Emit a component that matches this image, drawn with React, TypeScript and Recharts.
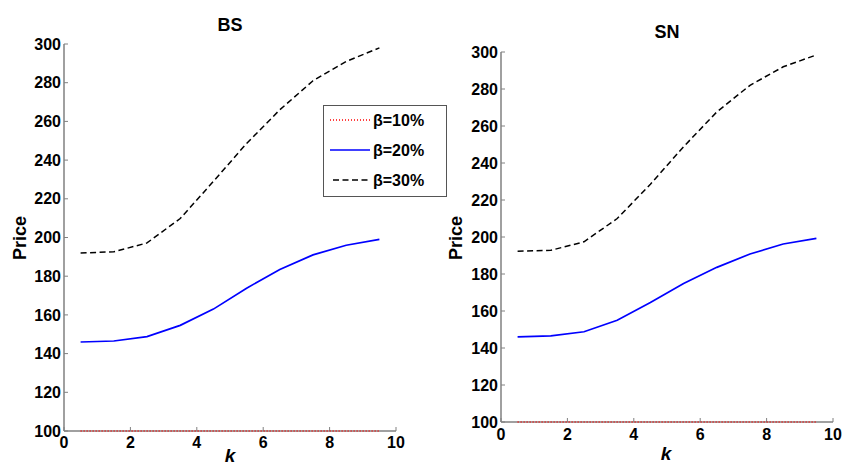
import React from 'react';
import { LineChart, Line, XAxis, YAxis } from 'recharts';

const kValues = [0.5, 1.5, 2.5, 3.5, 4.5, 5.5, 6.5, 7.5, 8.5, 9.5];
const bsBeta10 = [100, 100, 100, 100, 100, 100, 100, 100, 100, 100];
const bsBeta20 = [146, 146.5, 148.8, 154.6, 163, 173.8, 183.5, 191, 196, 199];
const bsBeta30 = [192, 192.6, 197.2, 209.8, 229, 248.6, 266, 281, 291, 298];
const snBeta10 = [100, 100, 100, 100, 100, 100, 100, 100, 100, 100];
const snBeta20 = [146, 146.6, 148.8, 155, 164.6, 174.9, 183.6, 190.8, 196.2, 199.3];
const snBeta30 = [192.3, 192.8, 197.4, 210, 228.5, 248.8, 267.6, 282, 292, 298.4];
const priceTicks = [100, 120, 140, 160, 180, 200, 220, 240, 260, 280, 300];
const kTicks = [0, 2, 4, 6, 8, 10];
const seriesNames = ['β=10%', 'β=20%', 'β=30%'];

const FONT = '"Liberation Sans", Arial, Helvetica, sans-serif';
const AXIS = '#808080';

function build(b10: number[], b20: number[], b30: number[]) {
  return kValues.map((k, i) => ({ k, b10: b10[i], b20: b20[i], b30: b30[i] }));
}

const bsData = build(bsBeta10, bsBeta20, bsBeta30);
const snData = build(snBeta10, snBeta20, snBeta30);

type PanelProps = {
  data: any[];
  width: number;
  height: number;
  margin: { top: number; right: number; bottom: number; left: number };
  xTickMargin: number;
};

function Panel({ data, width, height, margin, xTickMargin }: PanelProps) {
  const tickStyle = { fontSize: 16, fontWeight: 'bold', fill: '#000', fontFamily: FONT };
  const extra: any = { zIndex: 900 };
  return (
    <LineChart width={width} height={height} data={data} margin={margin}>
      <XAxis
        dataKey="k"
        type="number"
        domain={[0, 10]}
        ticks={kTicks}
        interval={0}
        height={20}
        tick={tickStyle}
        tickSize={-4}
        tickMargin={xTickMargin}
        axisLine={{ stroke: AXIS, strokeWidth: 1.5 }}
        tickLine={{ stroke: AXIS }}
      />
      <YAxis
        type="number"
        domain={[100, 300]}
        ticks={priceTicks}
        interval={0}
        width={60}
        tick={tickStyle}
        tickSize={-4}
        tickMargin={7}
        axisLine={{ stroke: AXIS, strokeWidth: 1.5 }}
        tickLine={{ stroke: AXIS }}
      />
      <Line
        type="linear"
        dataKey="b10"
        name={seriesNames[0]}
        stroke="#ff0000"
        strokeWidth={1.3}
        strokeDasharray="1 2"
        dot={false}
        isAnimationActive={false}
        {...extra}
      />
      <Line
        type="linear"
        dataKey="b20"
        name={seriesNames[1]}
        stroke="#0000ff"
        strokeWidth={1.7}
        dot={false}
        isAnimationActive={false}
      />
      <Line
        type="linear"
        dataKey="b30"
        name={seriesNames[2]}
        stroke="#000000"
        strokeWidth={1.5}
        strokeDasharray="6 3.5"
        dot={false}
        isAnimationActive={false}
      />
    </LineChart>
  );
}

export default function App() {
  const bold = { fontFamily: FONT, fontWeight: 'bold' as const, fill: '#000' };
  return (
    <div style={{ position: 'absolute', left: 0, top: 0, width: 842, height: 466, background: '#fff', overflow: 'hidden' }}>
      <div style={{ position: 'absolute', left: 0, top: 0 }}>
        <Panel
          data={bsData}
          width={420}
          height={466}
          margin={{ top: 44, right: 24, bottom: 15, left: 4 }}
          xTickMargin={10}
        />
      </div>
      <div style={{ position: 'absolute', left: 420, top: 0 }}>
        <Panel
          data={snData}
          width={422}
          height={466}
          margin={{ top: 52, right: 9, bottom: 24, left: 21 }}
          xTickMargin={11}
        />
      </div>
      <svg width={842} height={466} style={{ position: 'absolute', left: 0, top: 0, pointerEvents: 'none' }}>
        <text x={230} y={31} textAnchor="middle" fontSize={18} {...bold}>BS</text>
        <text x={667} y={38} textAnchor="middle" fontSize={18} {...bold}>SN</text>
        <text x={26} y={238} textAnchor="middle" fontSize={18} transform="rotate(-90 26 238)" {...bold}>Price</text>
        <text x={462} y={238} textAnchor="middle" fontSize={18} transform="rotate(-90 462 238)" {...bold}>Price</text>
        <text x={230} y={462} textAnchor="middle" fontSize={19} fontStyle="italic" {...bold}>k</text>
        <text x={666} y={460} textAnchor="middle" fontSize={19} fontStyle="italic" {...bold}>k</text>
        <g>
          <rect x={323.5} y={105.5} width={123} height={91} fill="#fff" stroke="#555" strokeWidth={1} />
          <line x1={330} y1={120} x2={370} y2={120} stroke="#ff0000" strokeWidth={1.3} strokeDasharray="1 2" />
          <line x1={330} y1={150} x2={370} y2={150} stroke="#0000ff" strokeWidth={1.7} />
          <line x1={333} y1={180} x2={370} y2={180} stroke="#000" strokeWidth={1.5} strokeDasharray="6 3.5" />
          <text x={373} y={126} fontSize={16} {...bold}>{seriesNames[0]}</text>
          <text x={373} y={156} fontSize={16} {...bold}>{seriesNames[1]}</text>
          <text x={373} y={186} fontSize={16} {...bold}>{seriesNames[2]}</text>
        </g>
      </svg>
    </div>
  );
}
